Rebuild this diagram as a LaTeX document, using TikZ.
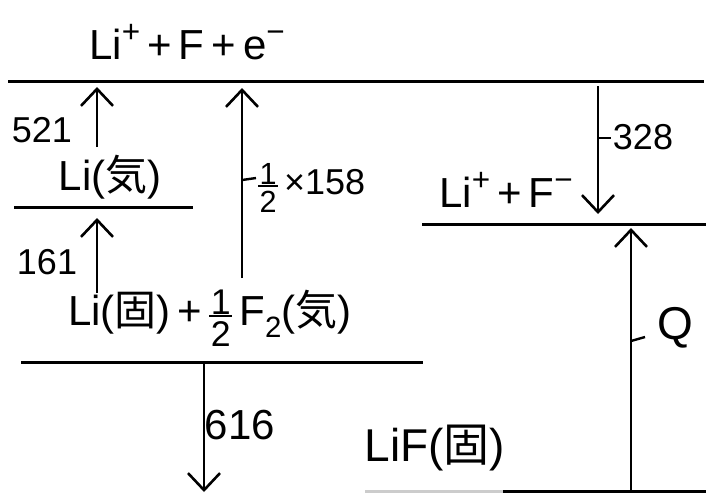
\documentclass[tikz,border=0pt]{standalone}
\usepackage{fontspec}
\setmainfont{Liberation Sans}
\newfontfamily\jpfont{Noto Sans CJK JP}
\usetikzlibrary{arrows.meta}
\newcommand\kiG{{\jpfont 気}}
\newcommand\koS{{\jpfont 固}}
\newcommand\halfF{\raisebox{-0.5em}{\shortstack{\scalebox{0.85}{1}\\[-2pt]\rule{0.55em}{2.2pt}\\[1pt]\scalebox{0.85}{2}}}}
\newcommand\supx[1]{\raisebox{0.42em}{\scalebox{0.75}{#1}}}
\tikzset{
  level/.style={line width=3pt},
  arr/.style={line width=2.6pt,-{Straight Barb[length=17pt,width=32pt,line width=2.6pt]}},
  lbl/.style={inner sep=0pt,font=\fontsize{42}{42}\selectfont},
  num/.style={inner sep=0pt,font=\fontsize{36}{36}\selectfont},
  tickm/.style={line width=2.4pt}
}
\begin{document}
\begin{tikzpicture}[x=1pt,y=-1pt]
\useasboundingbox[fill=white] (0,0) rectangle (706,493);
% level lines
\coordinate (t1) at (8,81);   \coordinate (t2) at (704,81);
\coordinate (g1) at (14,207); \coordinate (g2) at (193,207);
\coordinate (s1) at (21,362); \coordinate (s2) at (423,362);
\coordinate (i1) at (422,224);\coordinate (i2) at (706,224);
\coordinate (b0) at (365,491);\coordinate (b1) at (503,491); \coordinate (b2) at (706,491);
\draw[level] (t1) -- (t2);
\draw[level] (g1) -- (g2);
\draw[level] (s1) -- (s2);
\draw[level] (i1) -- (i2);
\draw[level,black!20] (b0) -- (b1);
\draw[level] (b1) -- (b2);
% arrows
\coordinate (a521s) at (97,147); \coordinate (a521e) at (97,87);
\coordinate (a161s) at (97,293); \coordinate (a161e) at (97,218);
\coordinate (a158s) at (242,278); \coordinate (a158e) at (242,88);
\coordinate (a328s) at (598,86); \coordinate (a328e) at (598,214);
\coordinate (a616s) at (204,362); \coordinate (a616e) at (204,492);
\coordinate (aQs) at (631,491); \coordinate (aQe) at (631,228);
\draw[arr] (a521s) -- (a521e);
\draw[arr] (a161s) -- (a161e);
\draw[arr] (a158s) -- (a158e);
\draw[arr] (a328s) -- (a328e);
\draw[arr] (a616s) -- (a616e);
\draw[arr] (aQs) -- (aQe);
% ticks
\coordinate (k158) at (242,180); \coordinate (k158e) at (256,178);
\coordinate (k328) at (598,138); \coordinate (k328e) at (611,138);
\coordinate (kQ) at (631,341); \coordinate (kQe) at (645,337);
\draw[tickm] (k158) -- (k158e);
\draw[tickm] (k328) -- (k328e);
\draw[tickm] (kQ) -- (kQe);
% labels
\node[lbl] (top) at (187,42) {Li\supx{+}\,+\,F\,+\,e\supx{−}};
\node[lbl] (lig) at (110,177) {Li(\kiG)};
\node[lbl] (sol) at (210,318) {Li(\koS)\,+\,\halfF\,F\textsubscript{2}(\kiG)};
\node[lbl] (ion) at (506,190) {Li\supx{+}\,+\,F\supx{−}};
\node[lbl,font=\fontsize{46}{46}\selectfont] (lif) at (435,448) {LiF(\koS)};
\node[num] (n521) at (42,130) {521};
\node[num] (n161) at (47,262) {161};
\node[num,anchor=west] (n158) at (258,188) {\halfF\,×158};
\node[num] (n328) at (643,137) {328};
\node[num,font=\fontsize{42}{42}\selectfont] (n616) at (240,425) {616};
\node[num,font=\fontsize{46}{46}\selectfont] (nQ) at (675,328) {Q};
\end{tikzpicture}
\end{document}
